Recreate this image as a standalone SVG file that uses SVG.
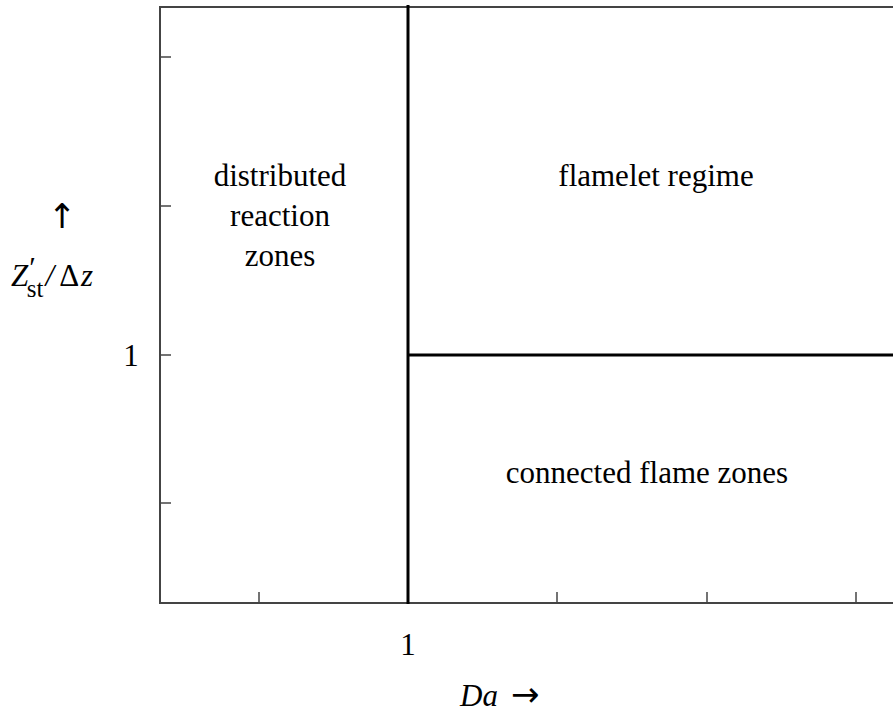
<svg xmlns="http://www.w3.org/2000/svg" width="893" height="715" viewBox="0 0 893 715">
<style>
.ax{stroke:#444;stroke-width:2;fill:none}
.tk{stroke:#444;stroke-width:1.5}
.rb{stroke:#000;stroke-width:3;fill:none}
.t{font-family:'Liberation Serif','Times New Roman','DejaVu Serif',serif;font-size:31px;fill:#000}
.ar{font-family:'DejaVu Sans',sans-serif;font-size:34px;fill:#000}
.c{text-anchor:middle}
</style>
<rect width="893" height="715" fill="#fff"/>
<g id="axes">
<polyline class="ax" points="893,7 160,7 160,603 893,603"/>
<line class="tk" x1="160" y1="57" x2="171" y2="57"/>
<line class="tk" x1="160" y1="206" x2="171" y2="206"/>
<line class="tk" x1="160" y1="355" x2="171" y2="355"/>
<line class="tk" x1="160" y1="503" x2="171" y2="503"/>
<line class="tk" x1="259" y1="603" x2="259" y2="592"/>
<line class="tk" x1="557" y1="603" x2="557" y2="592"/>
<line class="tk" x1="707" y1="603" x2="707" y2="592"/>
<line class="tk" x1="856" y1="603" x2="856" y2="592"/>
<text x="131" y="366" class="t c">1</text>
<text x="408" y="655" class="t c">1</text>
<text x="460" y="706" class="t" font-style="italic" font-size="32">Da</text>
<text x="511" y="706" class="ar" font-size="36">→</text>
<text x="62" y="228" class="ar c" font-size="30">↑</text>
<text x="11" y="286" class="t" font-size="34"><tspan font-style="italic">Z</tspan><tspan dx="1" dy="-9" font-size="30">′</tspan><tspan dx="-9" dy="20" font-size="25">st</tspan><tspan dx="2" dy="-11" font-style="italic">/</tspan><tspan dx="5">Δ</tspan><tspan dx="2" font-style="italic">z</tspan></text>
</g>
<g id="connectors">
<line class="rb" x1="408" y1="5" x2="408" y2="604"/>
<line class="rb" x1="408" y1="355" x2="893" y2="355"/>
</g>
<g id="distributed">
<text x="280" y="186" class="t c">distributed</text>
<text x="280" y="226" class="t c">reaction</text>
<text x="280" y="266" class="t c">zones</text>
</g>
<g id="flamelet"><text x="656" y="186" class="t c">flamelet regime</text></g>
<g id="connected"><text x="647" y="483" class="t c">connected flame zones</text></g>
</svg>
